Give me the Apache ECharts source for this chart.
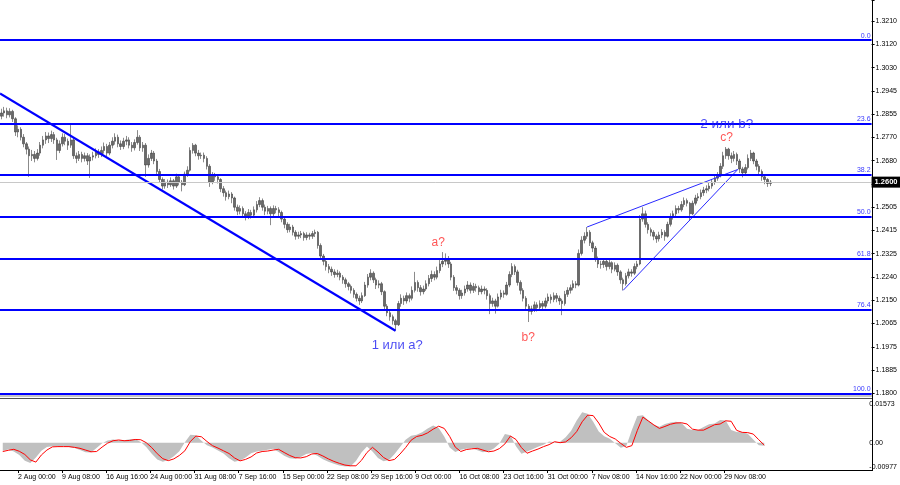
<!DOCTYPE html>
<html><head><meta charset="utf-8">
<script src="https://cdn.jsdelivr.net/npm/echarts@6/dist/echarts.min.js"></script>
<style>html,body{margin:0;padding:0;background:#fff}#c{width:900px;height:485px}</style>
</head><body><div id="c"></div>
<script>
// ---------- data ----------
const xLabels = ['2 Aug 00:00','9 Aug 08:00','16 Aug 16:00','24 Aug 00:00','31 Aug 08:00','7 Sep 16:00','15 Sep 00:00','22 Sep 08:00','29 Sep 16:00','9 Oct 00:00','16 Oct 08:00','23 Oct 16:00','31 Oct 00:00','7 Nov 08:00','14 Nov 16:00','22 Nov 00:00','29 Nov 08:00'];
const priceTicks = ['1.1800','1.1885','1.1975','1.2065','1.2150','1.2240','1.2325','1.2415','1.2505','1.2590','1.2680','1.2770','1.2855','1.2945','1.3030','1.3120','1.3210'];
const oscTickValues = [-0.00977, 0, 0.01573];
const oscTickLabels = ['-0.00977', '0.00', '0.01573'];
const fibLevels = [1.3138, 1.2822, 1.2627, 1.2469, 1.2311, 1.2116, 1.1800];
const fibNames = ['0.0', '23.6', '38.2', '50.0', '61.8', '76.4', '100.0'];
const lastPrice = 1.2600;
// [open, close, low, high]
const priceBars = [
[1.2850,1.2862,1.2838,1.2878],[1.2862,1.2870,1.2848,1.2885],[1.2870,1.2855,1.2842,1.2882],[1.2855,1.2868,1.2845,1.2880],
[1.2868,1.2840,1.2828,1.2874],[1.2840,1.2790,1.2775,1.2846],[1.2790,1.2800,1.2770,1.2815],[1.2800,1.2770,1.2758,1.2808],
[1.2770,1.2745,1.2732,1.2782],[1.2745,1.2725,1.2705,1.2752],[1.2725,1.2700,1.2620,1.2735],[1.2700,1.2705,1.2680,1.2722],
[1.2705,1.2690,1.2675,1.2718],[1.2690,1.2710,1.2682,1.2725],[1.2710,1.2740,1.2700,1.2752],[1.2740,1.2760,1.2728,1.2775],
[1.2760,1.2775,1.2745,1.2790],[1.2775,1.2765,1.2748,1.2788],[1.2765,1.2780,1.2752,1.2795],[1.2780,1.2760,1.2745,1.2790],
[1.2760,1.2720,1.2684,1.2768],[1.2720,1.2745,1.2710,1.2758],[1.2745,1.2770,1.2735,1.2785],[1.2770,1.2755,1.2740,1.2782],
[1.2755,1.2740,1.2722,1.2765],[1.2740,1.2760,1.2730,1.2816],[1.2760,1.2700,1.2688,1.2768],[1.2700,1.2690,1.2672,1.2712],
[1.2690,1.2705,1.2680,1.2718],[1.2705,1.2690,1.2675,1.2715],[1.2690,1.2700,1.2678,1.2712],[1.2700,1.2680,1.2665,1.2710],
[1.2680,1.2695,1.2616,1.2705],[1.2695,1.2700,1.2682,1.2715],[1.2700,1.2715,1.2690,1.2728],[1.2715,1.2705,1.2692,1.2725],
[1.2705,1.2720,1.2695,1.2735],[1.2720,1.2735,1.2708,1.2750],[1.2735,1.2710,1.2698,1.2745],[1.2710,1.2740,1.2702,1.2752],
[1.2740,1.2755,1.2728,1.2770],[1.2755,1.2770,1.2742,1.2785],[1.2770,1.2745,1.2732,1.2780],[1.2745,1.2735,1.2722,1.2758],
[1.2735,1.2755,1.2725,1.2768],[1.2755,1.2760,1.2740,1.2775],[1.2760,1.2740,1.2728,1.2770],[1.2740,1.2730,1.2715,1.2752],
[1.2730,1.2750,1.2720,1.2762],[1.2750,1.2770,1.2742,1.2797],[1.2770,1.2730,1.2718,1.2778],[1.2730,1.2740,1.2715,1.2752],
[1.2740,1.2665,1.2620,1.2748],[1.2665,1.2690,1.2655,1.2705],[1.2690,1.2710,1.2680,1.2722],[1.2710,1.2680,1.2668,1.2718],
[1.2680,1.2640,1.2628,1.2688],[1.2640,1.2610,1.2598,1.2650],[1.2610,1.2585,1.2572,1.2618],[1.2585,1.2600,1.2575,1.2612],
[1.2600,1.2590,1.2578,1.2610],[1.2590,1.2605,1.2582,1.2618],[1.2605,1.2585,1.2572,1.2612],[1.2585,1.2620,1.2578,1.2632],
[1.2620,1.2600,1.2588,1.2628],[1.2600,1.2590,1.2565,1.2608],[1.2590,1.2630,1.2585,1.2640],[1.2630,1.2645,1.2620,1.2660],
[1.2645,1.2720,1.2640,1.2732],[1.2720,1.2740,1.2708,1.2748],[1.2740,1.2710,1.2698,1.2745],[1.2710,1.2700,1.2685,1.2722],
[1.2700,1.2702,1.2688,1.2712],[1.2702,1.2690,1.2675,1.2712],[1.2690,1.2660,1.2648,1.2698],[1.2660,1.2600,1.2582,1.2668],
[1.2600,1.2625,1.2592,1.2638],[1.2625,1.2620,1.2605,1.2635],[1.2620,1.2610,1.2595,1.2628],[1.2610,1.2575,1.2562,1.2615],
[1.2575,1.2560,1.2545,1.2585],[1.2560,1.2545,1.2530,1.2568],[1.2545,1.2555,1.2535,1.2568],[1.2555,1.2540,1.2520,1.2562],
[1.2540,1.2505,1.2492,1.2545],[1.2505,1.2490,1.2475,1.2515],[1.2490,1.2500,1.2478,1.2512],[1.2500,1.2480,1.2465,1.2508],
[1.2480,1.2470,1.2455,1.2490],[1.2470,1.2485,1.2460,1.2498],[1.2485,1.2475,1.2462,1.2495],[1.2475,1.2495,1.2468,1.2508],
[1.2495,1.2515,1.2485,1.2528],[1.2515,1.2530,1.2505,1.2543],[1.2530,1.2505,1.2492,1.2538],[1.2505,1.2490,1.2475,1.2515],
[1.2490,1.2500,1.2478,1.2510],[1.2500,1.2480,1.2437,1.2508],[1.2480,1.2500,1.2470,1.2512],[1.2500,1.2495,1.2482,1.2510],
[1.2495,1.2485,1.2470,1.2505],[1.2485,1.2460,1.2448,1.2492],[1.2460,1.2440,1.2425,1.2468],[1.2440,1.2420,1.2408,1.2448],
[1.2420,1.2430,1.2410,1.2442],[1.2430,1.2410,1.2398,1.2438],[1.2410,1.2395,1.2382,1.2418],[1.2395,1.2400,1.2385,1.2412],
[1.2400,1.2405,1.2388,1.2415],[1.2405,1.2390,1.2378,1.2412],[1.2390,1.2400,1.2380,1.2410],[1.2400,1.2395,1.2382,1.2408],
[1.2395,1.2405,1.2385,1.2415],[1.2405,1.2410,1.2392,1.2420],[1.2410,1.2360,1.2348,1.2415],[1.2360,1.2320,1.2305,1.2368],
[1.2320,1.2300,1.2285,1.2328],[1.2300,1.2280,1.2265,1.2310],[1.2280,1.2270,1.2255,1.2290],[1.2270,1.2260,1.2245,1.2280],
[1.2260,1.2250,1.2238,1.2270],[1.2250,1.2255,1.2240,1.2268],[1.2255,1.2240,1.2228,1.2262],[1.2240,1.2230,1.2215,1.2248],
[1.2230,1.2215,1.2200,1.2238],[1.2215,1.2205,1.2190,1.2222],[1.2205,1.2190,1.2178,1.2212],[1.2190,1.2175,1.2162,1.2198],
[1.2175,1.2160,1.2148,1.2182],[1.2160,1.2150,1.2135,1.2170],[1.2150,1.2170,1.2142,1.2182],[1.2170,1.2210,1.2165,1.2222],
[1.2210,1.2240,1.2200,1.2252],[1.2240,1.2255,1.2228,1.2270],[1.2255,1.2230,1.2218,1.2262],[1.2230,1.2210,1.2195,1.2238],
[1.2210,1.2215,1.2198,1.2228],[1.2215,1.2185,1.2172,1.2222],[1.2185,1.2130,1.2118,1.2190],[1.2130,1.2105,1.2092,1.2138],
[1.2105,1.2090,1.2075,1.2112],[1.2090,1.2075,1.2060,1.2098],[1.2075,1.2060,1.2037,1.2082],[1.2060,1.2140,1.2055,1.2150],
[1.2140,1.2160,1.2128,1.2175],[1.2160,1.2150,1.2135,1.2170],[1.2150,1.2170,1.2140,1.2182],[1.2170,1.2160,1.2145,1.2178],
[1.2160,1.2190,1.2152,1.2205],[1.2190,1.2220,1.2182,1.2260],[1.2220,1.2200,1.2185,1.2228],[1.2200,1.2185,1.2170,1.2210],
[1.2185,1.2195,1.2175,1.2208],[1.2195,1.2215,1.2188,1.2228],[1.2215,1.2235,1.2205,1.2248],[1.2235,1.2250,1.2222,1.2265],
[1.2250,1.2240,1.2228,1.2262],[1.2240,1.2265,1.2232,1.2280],[1.2265,1.2290,1.2255,1.2305],[1.2290,1.2300,1.2278,1.2335],
[1.2300,1.2305,1.2285,1.2330],[1.2305,1.2290,1.2275,1.2320],[1.2290,1.2240,1.2228,1.2298],[1.2240,1.2200,1.2188,1.2248],
[1.2200,1.2190,1.2175,1.2210],[1.2190,1.2170,1.2155,1.2198],[1.2170,1.2180,1.2158,1.2192],[1.2180,1.2195,1.2170,1.2208],
[1.2195,1.2210,1.2185,1.2225],[1.2210,1.2190,1.2178,1.2220],[1.2190,1.2205,1.2180,1.2218],[1.2205,1.2200,1.2185,1.2215],
[1.2200,1.2185,1.2172,1.2208],[1.2185,1.2195,1.2175,1.2208],[1.2195,1.2190,1.2175,1.2205],[1.2190,1.2170,1.2155,1.2198],
[1.2170,1.2140,1.2100,1.2178],[1.2140,1.2150,1.2128,1.2162],[1.2150,1.2130,1.2102,1.2158],[1.2130,1.2165,1.2125,1.2178],
[1.2165,1.2180,1.2155,1.2192],[1.2180,1.2175,1.2162,1.2190],[1.2175,1.2210,1.2170,1.2222],[1.2210,1.2250,1.2202,1.2262],
[1.2250,1.2280,1.2240,1.2293],[1.2280,1.2260,1.2248,1.2288],[1.2260,1.2220,1.2208,1.2268],[1.2220,1.2190,1.2175,1.2228],
[1.2190,1.2160,1.2148,1.2198],[1.2160,1.2130,1.2115,1.2168],[1.2130,1.2110,1.2070,1.2138],[1.2110,1.2120,1.2098,1.2132],
[1.2120,1.2135,1.2108,1.2148],[1.2135,1.2125,1.2110,1.2145],[1.2125,1.2140,1.2115,1.2152],[1.2140,1.2130,1.2112,1.2150],
[1.2130,1.2150,1.2122,1.2162],[1.2150,1.2165,1.2140,1.2178],[1.2165,1.2155,1.2140,1.2175],[1.2155,1.2170,1.2145,1.2182],
[1.2170,1.2160,1.2145,1.2180],[1.2160,1.2150,1.2135,1.2170],[1.2150,1.2140,1.2096,1.2158],[1.2140,1.2175,1.2132,1.2188],
[1.2175,1.2190,1.2165,1.2202],[1.2190,1.2200,1.2178,1.2212],[1.2200,1.2215,1.2190,1.2228],[1.2215,1.2210,1.2198,1.2225],
[1.2210,1.2330,1.2205,1.2345],[1.2330,1.2380,1.2322,1.2395],[1.2380,1.2395,1.2368,1.2410],[1.2395,1.2410,1.2385,1.2430],
[1.2410,1.2370,1.2358,1.2418],[1.2370,1.2350,1.2335,1.2378],[1.2350,1.2310,1.2298,1.2358],[1.2310,1.2290,1.2275,1.2318],
[1.2290,1.2288,1.2272,1.2302],[1.2288,1.2300,1.2275,1.2312],[1.2300,1.2280,1.2265,1.2308],[1.2280,1.2295,1.2270,1.2306],
[1.2295,1.2270,1.2255,1.2300],[1.2270,1.2285,1.2262,1.2296],[1.2285,1.2260,1.2245,1.2292],[1.2260,1.2230,1.2215,1.2266],
[1.2230,1.2215,1.2190,1.2238],[1.2215,1.2245,1.2208,1.2256],[1.2245,1.2260,1.2235,1.2272],[1.2260,1.2255,1.2242,1.2270],
[1.2255,1.2280,1.2248,1.2292],[1.2280,1.2290,1.2270,1.2302],[1.2290,1.2460,1.2285,1.2475],[1.2460,1.2480,1.2450,1.2505],
[1.2480,1.2440,1.2428,1.2492],[1.2440,1.2420,1.2405,1.2448],[1.2420,1.2410,1.2395,1.2428],[1.2410,1.2395,1.2380,1.2418],
[1.2395,1.2385,1.2370,1.2402],[1.2385,1.2400,1.2375,1.2412],[1.2400,1.2410,1.2388,1.2422],[1.2410,1.2395,1.2378,1.2418],
[1.2395,1.2440,1.2390,1.2450],[1.2440,1.2470,1.2432,1.2482],[1.2470,1.2480,1.2458,1.2492],[1.2480,1.2500,1.2470,1.2512],
[1.2500,1.2495,1.2482,1.2510],[1.2495,1.2515,1.2488,1.2528],[1.2515,1.2530,1.2505,1.2542],[1.2530,1.2520,1.2508,1.2538],
[1.2520,1.2480,1.2454,1.2525],[1.2480,1.2520,1.2475,1.2530],[1.2520,1.2540,1.2512,1.2552],[1.2540,1.2545,1.2528,1.2558],
[1.2545,1.2560,1.2535,1.2572],[1.2560,1.2570,1.2548,1.2582],[1.2570,1.2575,1.2558,1.2588],[1.2575,1.2585,1.2565,1.2598],
[1.2585,1.2600,1.2575,1.2612],[1.2600,1.2615,1.2590,1.2628],[1.2615,1.2625,1.2605,1.2638],[1.2625,1.2660,1.2618,1.2672],
[1.2660,1.2700,1.2650,1.2715],[1.2700,1.2725,1.2688,1.2733],[1.2725,1.2700,1.2685,1.2730],[1.2700,1.2690,1.2672,1.2712],
[1.2690,1.2705,1.2678,1.2718],[1.2705,1.2680,1.2665,1.2712],[1.2680,1.2650,1.2635,1.2688],[1.2650,1.2635,1.2618,1.2658],
[1.2635,1.2655,1.2625,1.2668],[1.2655,1.2690,1.2648,1.2705],[1.2690,1.2710,1.2680,1.2722],[1.2710,1.2680,1.2668,1.2715],
[1.2680,1.2660,1.2645,1.2688],[1.2660,1.2640,1.2628,1.2668],[1.2640,1.2620,1.2605,1.2648],[1.2620,1.2610,1.2592,1.2628],
[1.2610,1.2595,1.2582,1.2615],[1.2595,1.2600,1.2585,1.2608]
];
const macdHist = [
-0.0033,-0.0028,-0.0036,-0.0050,-0.0073,-0.0083,-0.0060,-0.0033,-0.0018,-0.0015,
-0.0015,-0.0016,-0.0018,-0.0022,-0.0030,-0.0039,-0.0040,-0.0022,-0.0002,0.0009,
0.0013,0.0010,0.0010,0.0014,0.0015,0.0003,-0.0018,-0.0045,-0.0068,-0.0078,
-0.0070,-0.0055,-0.0035,0.0002,0.0032,0.0030,0.0008,-0.0010,-0.0020,-0.0032,
-0.0044,-0.0063,-0.0078,-0.0072,-0.0060,-0.0043,-0.0036,-0.0033,-0.0029,-0.0025,
-0.0038,-0.0053,-0.0063,-0.0065,-0.0058,-0.0046,-0.0042,-0.0053,-0.0067,-0.0078,
-0.0086,-0.0093,-0.0097,-0.0097,-0.0075,-0.0040,-0.0016,-0.0036,-0.0062,-0.0076,
-0.0070,-0.0046,-0.0018,0.0012,0.0028,0.0032,0.0042,0.0058,0.0070,0.0060,
0.0025,-0.0020,-0.0038,-0.0029,-0.0025,-0.0023,-0.0031,-0.0039,-0.0035,-0.0024,
-0.0003,0.0035,0.0030,-0.0015,-0.0045,-0.0036,-0.0027,-0.0017,-0.0008,0.0005,
0.0002,0.0004,0.0022,0.0048,0.0090,0.0124,0.0118,0.0085,0.0045,0.0026,
0.0016,-0.0002,-0.0021,-0.0014,0.0052,0.0108,0.0112,0.0090,0.0073,0.0065,
0.0076,0.0082,0.0085,0.0080,0.0057,0.0052,0.0052,0.0064,0.0075,0.0078,
0.0092,0.0090,0.0052,0.0043,0.0042,0.0036,0.0013,-0.0010,-0.0012
];
const macdSignal = [
-0.0036,-0.0031,-0.0027,-0.0035,-0.0048,-0.0070,-0.0079,-0.0050,-0.0030,-0.0017,
-0.0016,-0.0016,-0.0016,-0.0019,-0.0023,-0.0030,-0.0037,-0.0036,-0.0018,-0.0002,
0.0008,0.0011,0.0008,0.0009,0.0013,0.0012,0.0000,-0.0020,-0.0045,-0.0065,
-0.0073,-0.0066,-0.0052,-0.0033,0.0005,0.0027,0.0024,0.0005,-0.0012,-0.0022,
-0.0033,-0.0044,-0.0062,-0.0074,-0.0068,-0.0058,-0.0042,-0.0036,-0.0034,-0.0030,
-0.0027,-0.0040,-0.0052,-0.0061,-0.0062,-0.0057,-0.0046,-0.0044,-0.0054,-0.0066,
-0.0076,-0.0084,-0.0091,-0.0094,-0.0094,-0.0072,-0.0040,-0.0019,-0.0038,-0.0060,
-0.0073,-0.0068,-0.0046,-0.0020,0.0010,0.0025,0.0030,0.0040,0.0055,0.0067,
0.0058,0.0025,-0.0018,-0.0036,-0.0028,-0.0025,-0.0023,-0.0030,-0.0037,-0.0034,
-0.0024,-0.0005,0.0027,0.0013,-0.0020,-0.0043,-0.0034,-0.0026,-0.0016,-0.0008,
0.0004,0.0000,0.0003,0.0020,0.0045,0.0085,0.0112,0.0110,0.0080,0.0042,
0.0025,0.0015,-0.0003,-0.0019,-0.0012,0.0050,0.0104,0.0088,0.0072,0.0058,
0.0066,0.0075,0.0080,0.0081,0.0076,0.0055,0.0051,0.0051,0.0062,0.0073,
0.0076,0.0089,0.0087,0.0050,0.0042,0.0041,0.0035,0.0012,-0.0010
];
const trendMain = [[-0.5, 1.2936], [142, 1.2037]];
const wedgeUpper = [[211, 1.2430], [265.3, 1.2648]];
const wedgeLower = [[224, 1.2190], [265.3, 1.2648]];
const waveTexts = ['2 или b?', 'c?', 'a?', '1 или a?', 'b?'];
const waveSlots = [261.3, 261.3, 157.4, 142.6, 189.8];
const wavePrices = [1.2820, 1.2769, 1.2371, 1.1982, 1.2011];
const waveColors = ['#1c1cf0', '#ff2a2a', '#ff2a2a', '#1c1cf0', '#ff2a2a'];
const waveSizes = [13.5, 12, 12, 13, 12];

// ---------- layout constants ----------
const MAIN_SLOTS = 314, OSC_SLOTS = 157, FIRST_LABEL = 6, LABEL_STEP = 16;
const TICK_STEP = 0.0088125, P_MIN = 1.1800, P_MAX = 1.3290;
const FONT = 'Liberation Sans';

const mainCats = Array.from({length: MAIN_SLOTS}, (_, i) => String(i));
const oscCats = Array.from({length: OSC_SLOTS}, (_, i) => String(i));
const labelCats = Array.from({length: MAIN_SLOTS}, (_, i) => {
  const k = (i - FIRST_LABEL) / LABEL_STEP;
  return (i >= FIRST_LABEL && Number.isInteger(k) && k < xLabels.length) ? xLabels[k] : '';
});
const isLabelSlot = (i) => labelCats[i] !== '';

const fibMarks = fibLevels.map((v, i) => ({
  yAxis: v,
  lineStyle: {color: '#0000ff', width: 2, type: 'solid'},
  label: {show: true, position: 'insideEndTop', formatter: fibNames[i], color: '#3a3aff', fontSize: 7, fontFamily: FONT, distance: 1}
}));
fibMarks.push({
  yAxis: lastPrice,
  lineStyle: {color: '#c8c8c8', width: 1, type: 'solid'},
  label: {show: true, position: 'end', formatter: lastPrice.toFixed(4), color: '#fff', backgroundColor: '#000',
          padding: [2, 3, 1, 3], fontSize: 7.5, fontWeight: 'bold', fontFamily: FONT, distance: 0}
});

const chart = echarts.init(document.getElementById('c'), null, {renderer: 'canvas'});
chart.setOption({
  animation: false,
  backgroundColor: '#ffffff',
  grid: [
    {left: 0, right: 28, top: 0, bottom: 91.7},
    {left: 0, right: 28, top: 404, bottom: 18.3}
  ],
  xAxis: [
    {type: 'category', gridIndex: 0, data: mainCats, show: false, boundaryGap: true},
    {type: 'value', gridIndex: 0, min: -0.5, max: MAIN_SLOTS - 0.5, show: false},
    {type: 'category', gridIndex: 1, data: oscCats, show: false, boundaryGap: true},
    {type: 'category', gridIndex: 1, data: labelCats, position: 'bottom', offset: 3.3, boundaryGap: true,
     axisLine: {show: false, onZero: false},
     axisTick: {show: true, alignWithLabel: true, interval: (i) => isLabelSlot(i), length: 3, lineStyle: {color: '#000'}},
     axisLabel: {show: true, interval: (i) => isLabelSlot(i), align: 'left', fontSize: 7, color: '#000', fontFamily: FONT, margin: 4},
     splitLine: {show: false}}
  ],
  yAxis: [
    {type: 'value', gridIndex: 0, position: 'right', min: P_MIN, max: P_MAX, interval: TICK_STEP,
     axisLine: {show: false, onZero: false}, splitLine: {show: false},
     axisTick: {show: true, length: 3, lineStyle: {color: '#000'}},
     axisLabel: {show: true, fontSize: 7, color: '#000', fontFamily: FONT, margin: 4,
       formatter: (v) => {
         const idx = Math.round((v - P_MIN) / TICK_STEP);
         if (Math.abs(v - (P_MIN + idx * TICK_STEP)) > 1e-6) return '';
         return priceTicks[idx] || '';
       }}},
    {type: 'value', gridIndex: 1, position: 'right', min: oscTickValues[0], max: oscTickValues[2], interval: 0.00977,
     axisLine: {show: false, onZero: false}, splitLine: {show: false}, axisTick: {show: false},
     axisLabel: {show: true, fontSize: 7, color: '#000', fontFamily: FONT, margin: 3,
       formatter: (v) => {
         for (let i = 0; i < oscTickValues.length; i++) if (Math.abs(v - oscTickValues[i]) < 1e-7) return oscTickLabels[i];
         return '';
       }}}
  ],
  graphic: [
    {type: 'line', shape: {x1: 872.5, y1: 0, x2: 872.5, y2: 471}, style: {stroke: '#000', lineWidth: 1}, z: 100},
    {type: 'line', shape: {x1: 0, y1: 396, x2: 872, y2: 396}, style: {stroke: '#8c8c8c', lineWidth: 1}, z: 100},
    {type: 'line', shape: {x1: 0, y1: 398.5, x2: 872, y2: 398.5}, style: {stroke: '#505050', lineWidth: 1}, z: 100},
    {type: 'line', shape: {x1: 0, y1: 470.5, x2: 872, y2: 470.5}, style: {stroke: '#000', lineWidth: 1}, z: 100}
  ],
  series: [
    {type: 'candlestick', xAxisIndex: 0, yAxisIndex: 0, data: priceBars, barWidth: 2,
     itemStyle: {color: '#6a6a6a', color0: '#6a6a6a', borderColor: '#3c3c3c', borderColor0: '#3c3c3c', borderWidth: 0.6},
     markLine: {silent: true, symbol: ['none', 'none'], precision: 5, animation: false, data: fibMarks}, z: 3},
    {type: 'line', xAxisIndex: 1, yAxisIndex: 0, data: trendMain, symbol: 'none', lineStyle: {color: '#0000ff', width: 2.2}, z: 4},
    {type: 'line', xAxisIndex: 1, yAxisIndex: 0, data: wedgeUpper, symbol: 'none', lineStyle: {color: '#2a2aff', width: 1}, z: 4},
    {type: 'line', xAxisIndex: 1, yAxisIndex: 0, data: wedgeLower, symbol: 'none', lineStyle: {color: '#2a2aff', width: 1}, z: 4},
    {type: 'scatter', xAxisIndex: 1, yAxisIndex: 0, symbolSize: 1, itemStyle: {color: 'rgba(0,0,0,0)'}, z: 6,
     data: waveTexts.map((t, i) => ({value: [waveSlots[i], wavePrices[i]],
       label: {show: true, position: 'inside', formatter: t, color: waveColors[i], fontSize: waveSizes[i], fontFamily: FONT}}))},
    {type: 'line', xAxisIndex: 2, yAxisIndex: 1, data: macdHist, symbol: 'none',
     lineStyle: {width: 0, color: '#c0c0c0'}, areaStyle: {color: '#c0c0c0', opacity: 1, origin: 0}, z: 2},
    {type: 'line', xAxisIndex: 2, yAxisIndex: 1, data: macdSignal, symbol: 'none',
     lineStyle: {color: '#ff0000', width: 1}, z: 3}
  ]
});
</script>
</body></html>
